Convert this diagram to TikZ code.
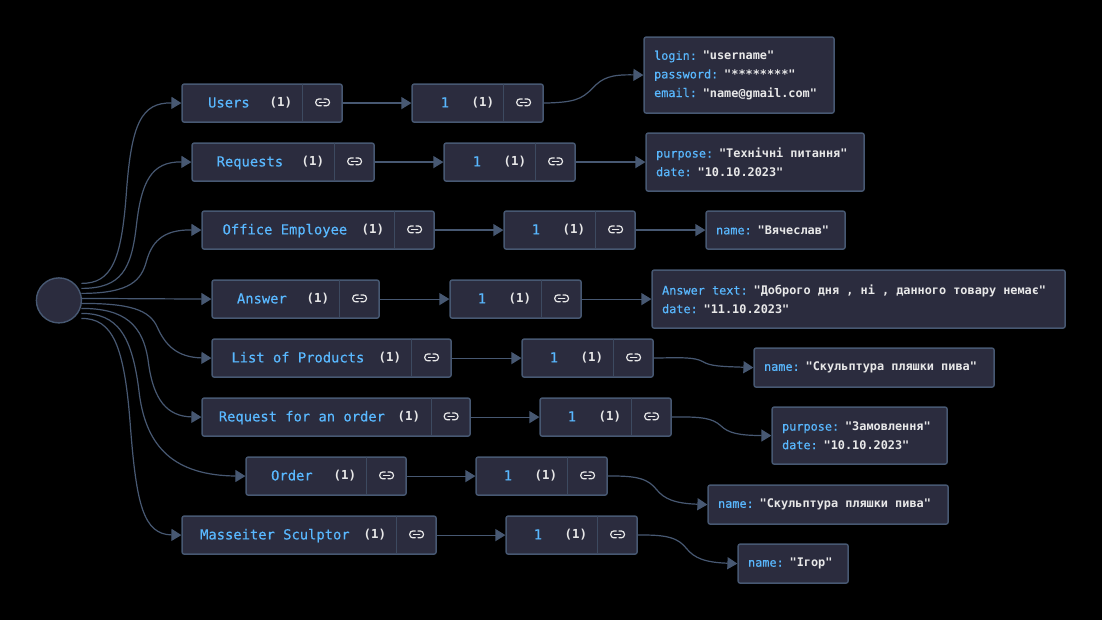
\documentclass[tikz,border=0pt]{standalone}
\usepackage{fontspec}
\setmonofont{DejaVu Sans Mono}[BoldFont={DejaVu Sans Mono Bold}]
\newfontfamily\medfam{DejaVu Sans Mono}[FakeBold=0.35]
\usetikzlibrary{arrows.meta}
\definecolor{edgecol}{HTML}{475872}
\definecolor{divcol}{HTML}{3D4A60}
\definecolor{boxfill}{HTML}{2B2C3E}
\definecolor{keycol}{HTML}{59B8FF}
\definecolor{valcol}{HTML}{E8E8E8}
\newcommand{\kk}[1]{\textcolor{keycol}{{\medfam\spaceskip=7.13pt\relax #1}}}
\newcommand{\vv}[1]{\textcolor{valcol}{\bfseries\spaceskip=7.13pt\relax #1}}
\tikzset{
  boxstyle/.style={draw=edgecol,fill=boxfill,line width=1.4pt,rounded corners=2pt,inner sep=0pt,anchor=north west},
  leafbox/.style={boxstyle,inner xsep=10pt,align=left,font=\ttfamily\fontsize{11.85pt}{18.6pt}\selectfont},
  namelabel/.style={text=keycol,font=\medfam\fontsize{13.8pt}{16pt}\selectfont,inner sep=0pt,anchor=base,yshift=-5pt},
  countlabel/.style={text=valcol,font=\ttfamily\bfseries\fontsize{12.4pt}{14pt}\selectfont,inner sep=0pt,anchor=base,yshift=-4.5pt},
  conn/.style={draw=edgecol,line width=1.2pt,-{Triangle[length=10pt,width=12pt,fill=edgecol]}},
  divider/.style={draw=divcol,line width=0.8pt},
  linkicon/.pic={
    \draw[valcol,line width=1.2pt,line cap=round,rounded corners=3pt]
      (-1.4,-3.4) -- (-6.8,-3.4) -- (-6.8,3.4) -- (-1.4,3.4);
    \draw[valcol,line width=1.2pt,line cap=round,rounded corners=3pt]
      (1.4,-3.4) -- (6.8,-3.4) -- (6.8,3.4) -- (1.4,3.4);
    \draw[valcol,line width=1.2pt,line cap=round] (-3.2,0) -- (3.2,0);
  }
}
% name, x0, x1, divider, ytop, label, label centre, count centre
\newcommand{\rowbox}[8]{%
  \pgfmathsetmacro{\boxw}{#3-#2}%
  \pgfmathsetmacro{\rowy}{#5+19}%
  \pgfmathsetmacro{\iconx}{(#4+#3)/2+1.2}%
  \pgfmathsetmacro{\divx}{#4+0.8}%
  \node[boxstyle,minimum width=\boxw pt,minimum height=38pt] (#1) at (#2,#5) {};
  \draw[divider] (\divx,#5+0.7) -- (\divx,#5+37.3);
  \node[namelabel] (#1-label) at (#7+0.5,\rowy) {#6};
  \node[countlabel] (#1-count) at (#8+0.5,\rowy) {(1)};
  \pic at (\iconx,\rowy) {linkicon};
}
% name, x0, x1, ytop, ybot, text
\newcommand{\leafnode}[6]{%
  \pgfmathsetmacro{\boxw}{#3-#2}%
  \pgfmathsetmacro{\boxh}{#5-#4}%
  \pgfmathsetmacro{\textw}{#3-#2-20}%
  \node[leafbox,minimum width=\boxw pt,minimum height=\boxh pt,text width=\textw pt] (#1) at (#2,#4) {#6};
}
\begin{document}
\begin{tikzpicture}[x=1pt,y=-1pt]
\fill[black] (0,0) rectangle (1102,620);
\useasboundingbox (0,0) rectangle (1102,620);
\begin{scope}[xshift=-0.6pt,yshift=0.6pt]
\node[draw=edgecol,fill=boxfill,line width=1.4pt,circle,minimum size=45pt,inner sep=0pt] (root) at (59.5,301) {};
\coordinate (s1) at (82,284);
\coordinate (s2) at (82,289);
\coordinate (s3) at (82,294);
\coordinate (s4) at (82,299);
\coordinate (s5) at (82,304);
\coordinate (s6) at (82,309);
\coordinate (s7) at (82,314);
\coordinate (s8) at (82,319);

\rowbox{a1}{182}{342}{302}{84}{Users}{229}{281}
\rowbox{a2}{192}{374}{334}{143}{Requests}{250}{313}
\rowbox{a3}{202}{434}{394}{211}{Office Employee}{285}{373}
\rowbox{a4}{212}{379}{339}{280}{Answer}{262}{318}
\rowbox{a5}{212}{451}{411}{339}{List of Products}{298}{390}
\rowbox{a6}{202}{470}{431}{398}{Request for an order}{302}{409}
\rowbox{a7}{246}{406}{366}{457}{Order}{292}{345}
\rowbox{a8}{182}{436}{396}{516}{Masseiter Sculptor}{275}{375}

\rowbox{b1}{412}{543}{503}{84}{1}{445}{483}
\rowbox{b2}{444}{575}{535}{143}{1}{477}{515}
\rowbox{b3}{504}{635}{595}{211}{1}{536}{574}
\rowbox{b4}{450}{581}{541}{280}{1}{482}{520}
\rowbox{b5}{522}{653}{613}{339}{1}{554}{592}
\rowbox{b6}{540}{671}{631}{398}{1}{572}{610}
\rowbox{b7}{476}{607}{567}{457}{1}{508}{546}
\rowbox{b8}{506}{637}{597}{516}{1}{538}{576}

\leafnode{c1}{644}{834}{37}{113}{\kk{login:} \vv{"username"}\\\kk{password:} \vv{"********"}\\\kk{email:} \vv{"name@gmail.com"}}
\leafnode{c2}{646}{864}{133}{191}{\kk{purpose:} \vv{"Технічні питання"}\\\kk{date:} \vv{"10.10.2023"}}
\leafnode{c3}{706}{845}{211}{249}{\kk{name:} \vv{"Вячеслав"}}
\leafnode{c4}{652}{1065}{270}{328}{\kk{Answer text:} \vv{"Доброго дня , ні , данного товару немає"}\\\kk{date:} \vv{"11.10.2023"}}
\leafnode{c5}{754}{994}{348}{387}{\kk{name:} \vv{"Скульптура пляшки пива"}}
\leafnode{c6}{772}{947}{407}{464}{\kk{purpose:} \vv{"Замовлення"}\\\kk{date:} \vv{"10.10.2023"}}
\leafnode{c7}{708}{948}{485}{524}{\kk{name:} \vv{"Скульптура пляшки пива"}}
\leafnode{c8}{738}{848}{544}{583}{\kk{name:} \vv{"Ігор"}}

% root to first level
\draw[conn] (s1) .. controls (112,284) and (122,262) .. (127,193) .. controls (132,124) and (142,103) .. (a1.west);
\draw[conn] (s2) .. controls (122,289) and (132,270) .. (137,226) .. controls (142,182) and (152,162) .. (a2.west);
\draw[conn] (s3) .. controls (132,294) and (142,280) .. (147,262) .. controls (152,244) and (162,230) .. (a3.west);
\draw[conn] (s4) -- (a4.west);
\draw[conn] (s5) .. controls (130,304) and (150,310) .. (158,328) .. controls (166,346) and (178,358) .. (a5.west);
\draw[conn] (s6) .. controls (125,309) and (144,325) .. (149,363) .. controls (154,401) and (168,417) .. (a6.west);
\draw[conn] (s7) .. controls (118,314) and (133,335) .. (140,395) .. controls (147,448) and (175,476) .. (a7.west);
\draw[conn] (s8) .. controls (113,319) and (125,345) .. (131,427) .. controls (137,505) and (144,535) .. (a8.west);

% first to second level
\draw[conn] (a1.east) -- (b1.west);
\draw[conn] (a2.east) -- (b2.west);
\draw[conn] (a3.east) -- (b3.west);
\draw[conn] (a4.east) -- (b4.west);
\draw[conn] (a5.east) -- (b5.west);
\draw[conn] (a6.east) -- (b6.west);
\draw[conn] (a7.east) -- (b7.west);
\draw[conn] (a8.east) -- (b8.west);

% second level to leaves
\draw[conn] (b1.east) .. controls (575,103) and (582,100) .. (593,89) .. controls (603,78) and (612,75) .. (c1.west);
\draw[conn] (b2.east) -- (c2.west);
\draw[conn] (b3.east) -- (c3.west);
\draw[conn] (b4.east) -- (c4.west);
\draw[conn] (b5.east) .. controls (685,358) and (695,358) .. (703,362) .. controls (711,367) and (722,367) .. (c5.west);
\draw[conn] (b6.east) .. controls (703,417) and (713,419) .. (721,426) .. controls (729,434) and (740,436) .. (c6.west);
\draw[conn] (b7.east) .. controls (639,476) and (649,480) .. (657,490) .. controls (665,500) and (676,504) .. (c7.west);
\draw[conn] (b8.east) .. controls (669,535) and (679,539) .. (687,549) .. controls (695,559) and (706,563) .. (c8.west);
\end{scope}
\end{tikzpicture}
\end{document}
